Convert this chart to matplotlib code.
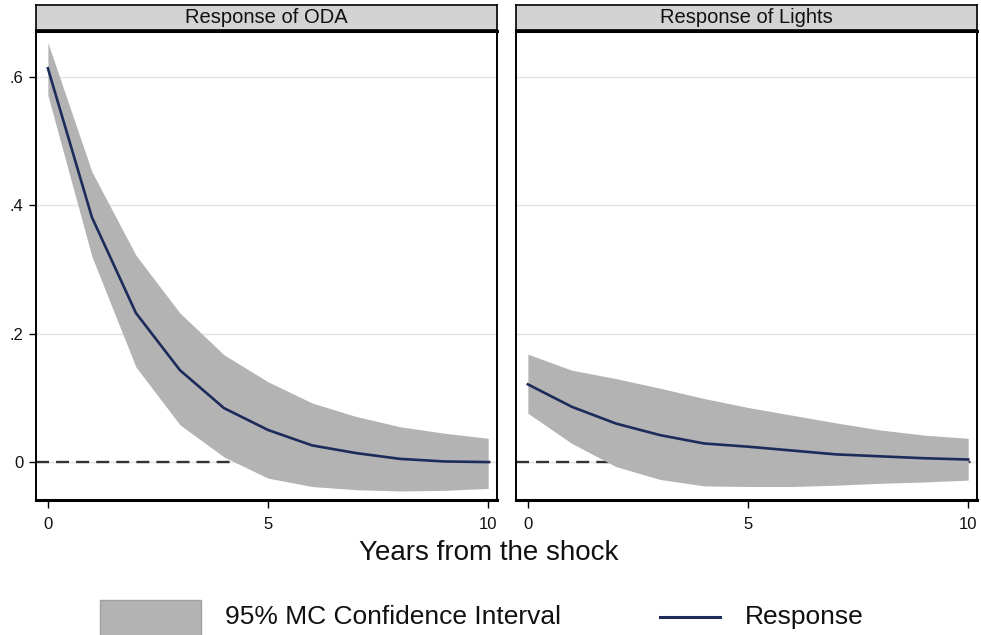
import matplotlib
matplotlib.use("Agg")
import matplotlib.pyplot as plt
from matplotlib.patches import Rectangle
from matplotlib.lines import Line2D

plt.rcParams['font.family'] = ['Liberation Sans', 'DejaVu Sans']

years = list(range(11))
panel_titles = ["Response of ODA", "Response of Lights"]

oda_resp  = [0.613, 0.381, 0.232, 0.143, 0.084, 0.050, 0.026, 0.014, 0.005, 0.001, 0.000]
oda_upper = [0.653, 0.452, 0.322, 0.232, 0.167, 0.125, 0.092, 0.071, 0.055, 0.045, 0.037]
oda_lower = [0.571, 0.320, 0.148, 0.058, 0.008, -0.025, -0.038, -0.043, -0.045, -0.044, -0.041]

lights_resp  = [0.121, 0.086, 0.060, 0.042, 0.029, 0.024, 0.018, 0.012, 0.009, 0.006, 0.004]
lights_upper = [0.168, 0.143, 0.130, 0.115, 0.099, 0.085, 0.073, 0.061, 0.050, 0.042, 0.037]
lights_lower = [0.076, 0.029, -0.007, -0.027, -0.037, -0.038, -0.038, -0.036, -0.033, -0.031, -0.028]

y_ticks = [0, 0.2, 0.4, 0.6]
y_ticklabels = ["0", ".2", ".4", ".6"]
x_ticks = [0, 5, 10]
x_ticklabels = ["0", "5", "10"]

band_color = "#b3b3b3"
line_color = "#1c2b5a"

W, H = 981, 635
fig = plt.figure(figsize=(W / 100, H / 100), dpi=100)

def fx(px):
    return px / W

def fy(py):
    return 1 - py / H

panels = [
    (36, oda_resp, oda_upper, oda_lower),
    (516, lights_resp, lights_upper, lights_lower),
]

for i, (x0, resp, up, lo) in enumerate(panels):
    ax = fig.add_axes([fx(x0), fy(500), fx(461), 469 / H])
    for yt in y_ticks:
        ax.axhline(yt, color="#e3e3e3", linewidth=1.0, zorder=1)
    ax.axhline(0, color="#333333", linewidth=1.7, dashes=(5.5, 3), zorder=1.5)
    ax.fill_between(years, lo, up, color=band_color, linewidth=0, zorder=2)
    ax.plot(years, resp, color=line_color, linewidth=1.9, zorder=3)
    ax.set_xlim(-0.27, 10.2)
    ax.set_ylim(-0.059, 0.671)
    ax.set_xticks(x_ticks)
    ax.set_xticklabels(x_ticklabels, fontsize=12, color="#111111")
    ax.set_yticks(y_ticks)
    if i == 0:
        ax.set_yticklabels(y_ticklabels, fontsize=12, color="#111111")
        ax.tick_params(axis='y', length=5, width=1, direction='out', pad=4)
    else:
        ax.set_yticklabels([])
        ax.tick_params(axis='y', length=0)
    ax.tick_params(axis='x', length=6, width=1, direction='out', pad=6)
    for side, sp in ax.spines.items():
        sp.set_color("black")
        sp.set_linewidth(1.4)
    ax.spines['bottom'].set_linewidth(2.2)
    ax.spines['top'].set_linewidth(2.2)

    hax = fig.add_axes([fx(x0), fy(30), fx(461), 25 / H])
    hax.set_facecolor("#d3d3d3")
    hax.set_xticks([])
    hax.set_yticks([])
    for sp in hax.spines.values():
        sp.set_color("black")
        sp.set_linewidth(1.2)
    hax.text(0.5, 0.5, panel_titles[i], ha="center", va="center",
             fontsize=14.5, color="#111111", transform=hax.transAxes)

fig.text(fx(489), fy(553), "Years from the shock", ha="center", va="center",
         fontsize=20, color="#111111")

# legend
fig.patches.append(Rectangle((fx(100), fy(640)), fx(101), 40 / H,
                             transform=fig.transFigure, facecolor=band_color,
                             edgecolor="#a0a0a0", linewidth=1))
fig.text(fx(225), fy(617), "95% MC Confidence Interval", ha="left", va="center",
         fontsize=19, color="#111111")
fig.lines.append(Line2D([fx(660), fx(720)], [fy(617), fy(617)],
                        transform=fig.transFigure, color=line_color, linewidth=2.2))
fig.text(fx(745), fy(617), "Response", ha="left", va="center",
         fontsize=19, color="#111111")

fig.savefig("out.png", dpi=100, facecolor="white")
